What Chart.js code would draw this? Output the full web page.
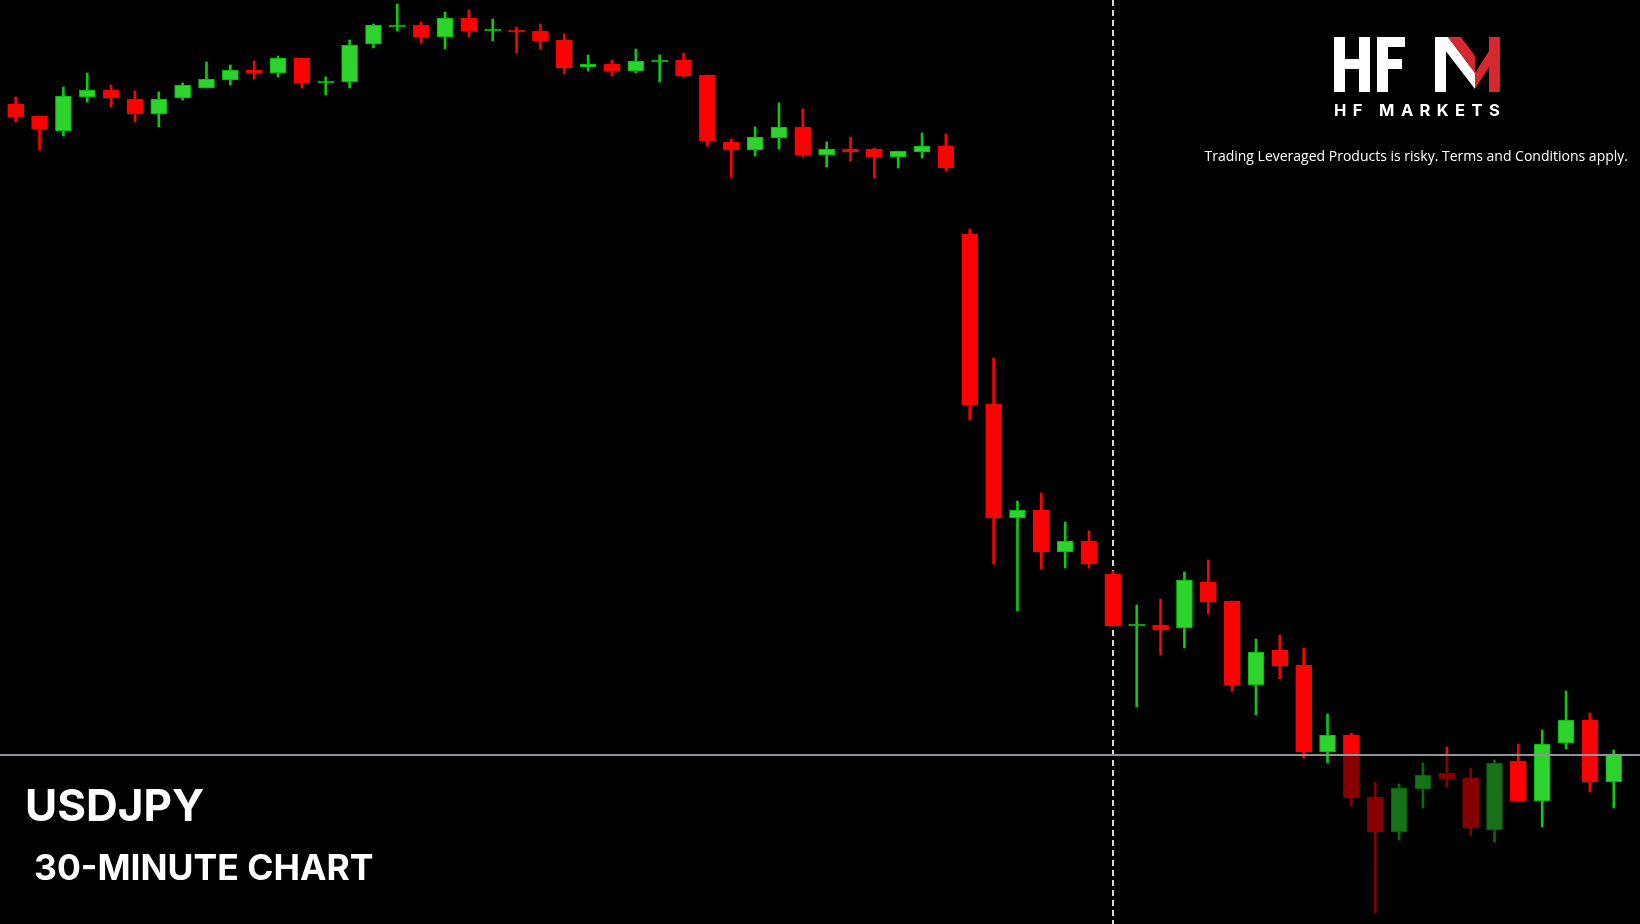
<!DOCTYPE html>
<html><head><meta charset="utf-8">
<script src="https://cdn.jsdelivr.net/npm/chart.js@4.4.1/dist/chart.umd.min.js"></script>
<style>
html,body{margin:0;padding:0;background:#000;width:1640px;height:924px;overflow:hidden}
#wrap{position:absolute;left:0;top:0;width:1640px;height:924px}
.t{position:absolute;color:#fff;font-family:Inter,"Open Sans",sans-serif;white-space:nowrap}
</style></head><body>
<div id="wrap"><canvas id="c" width="1640" height="924"></canvas></div>
<div class="t" style="left:25px;top:778px;font-size:44px;font-weight:700">USDJPY</div>
<div class="t" style="left:34px;top:846px;font-size:35.5px;font-weight:700">30-MINUTE CHART</div>
<svg style="position:absolute;left:1334px;top:37px" width="170" height="56">
<g fill="#fff">
<rect x="0" y="0" width="11" height="55"/><rect x="25" y="0" width="11" height="55"/><rect x="0" y="22" width="36" height="10"/>
<rect x="43" y="0" width="11" height="55"/><rect x="43" y="0" width="28" height="10"/><rect x="43" y="22" width="25" height="10"/>
<rect x="101" y="0" width="11" height="55"/><polygon points="101,0 114,0 141,36 141,52"/>
</g>
<g fill="#d7282f"><polygon points="114,0 127,0 141,19 141,36"/><polygon points="141,52 141,36 155,14 155,0 166,0 166,55 155,55 155,30"/></g>
</svg>
<div class="t" style="left:1334px;top:100px;font-size:16.5px;font-weight:700;letter-spacing:6.4px">HF MARKETS</div>
<div class="t" style="right:12px;top:146px;font-size:14px;font-family:'Open Sans',sans-serif">Trading Leveraged Products is risky. Terms and Conditions apply.</div>
<script>
const idx   = [-1,0,1,2,3,4,5,6,7,8,9,10,11,12,13,14,15,16,17,18,19,20,21,22,23,24,25,26,27,28,29,30,31,32,33,34,35,36,37,38,39,40,41,42,43,44,45,46,47,48,49,50,51,52,53,54,55,56,57,58,59,60,61,62,63,64,65,66,67];
const open  = [153.89,153.96,153.84,153.69,154.03,154.10,154.01,153.86,154.02,154.12,154.20,154.30,154.27,154.42,154.17,154.18,154.56,154.73,154.75,154.63,154.82,154.69,154.70,154.69,154.60,154.33,154.36,154.29,154.38,154.40,154.25,153.58,153.50,153.62,153.73,153.45,153.51,153.51,153.43,153.48,153.54,152.66,150.96,149.82,149.90,149.48,149.59,149.26,148.74,148.75,148.72,149.18,148.99,148.15,148.50,148.35,147.48,147.65,147.03,146.68,147.11,147.27,147.22,146.70,147.39,146.99,147.57,147.80,147.18];
const high  = [153.95,154.03,153.84,154.13,154.27,154.15,154.09,154.08,154.17,154.38,154.35,154.39,154.44,154.42,154.23,154.60,154.76,154.96,154.78,154.88,154.90,154.81,154.73,154.76,154.66,154.45,154.40,154.51,154.45,154.47,154.25,153.61,153.73,153.97,153.91,153.58,153.63,153.52,153.49,153.67,153.66,152.71,151.42,149.99,150.07,149.78,149.69,149.29,148.95,149.01,149.28,149.40,148.99,148.61,148.65,148.52,147.86,147.67,147.18,147.16,147.37,147.53,147.32,147.40,147.56,147.70,148.09,147.87,147.50];
const low   = [153.85,153.78,153.50,153.64,153.98,153.93,153.78,153.73,154.00,154.12,154.15,154.21,154.23,154.12,154.05,154.12,154.52,154.69,154.57,154.51,154.63,154.59,154.47,154.51,154.26,154.29,154.24,154.27,154.18,154.23,153.54,153.23,153.44,153.51,153.43,153.33,153.39,153.22,153.32,153.42,153.29,150.80,149.36,148.89,149.31,149.32,149.32,148.74,147.93,148.45,148.52,148.86,148.09,147.85,148.21,147.42,147.37,146.94,145.87,146.60,146.92,147.13,146.64,146.58,146.99,146.73,147.51,147.08,146.92];
const close = [153.91,153.83,153.71,154.04,154.10,154.02,153.86,154.01,154.15,154.21,154.30,154.27,154.42,154.17,154.19,154.55,154.75,154.75,154.63,154.82,154.69,154.70,154.68,154.59,154.32,154.36,154.29,154.39,154.40,154.24,153.59,153.50,153.63,153.73,153.45,153.51,153.48,153.43,153.49,153.54,153.32,150.95,149.82,149.90,149.48,149.59,149.36,148.74,148.76,148.70,149.20,148.98,148.15,148.48,148.34,147.48,147.65,147.02,146.68,147.12,147.25,147.21,146.72,147.37,146.99,147.56,147.80,147.18,147.45];
const hLevel = 147.45;      // horizontal price line
const vIndex = 46;          // vertical dashed separator
const dimFrom = 55.6, dimTo = 62.6;
const yMin = 145.76, yMax = 155.0, xMin = -0.658, xMax = 68.1;

const up = (i)=> close[i] >= open[i];
const bodies = idx.map((x,i)=>({x, y:[Math.min(open[i],close[i]), Math.max(open[i],close[i])]}));
const wicks  = idx.map((x,i)=>({x, y:[low[i], high[i]]}));
const G='#2ed32e', GB='#00b800', R='#ff0000';

const overlay = {
  id:'ov',
  beforeDatasetsDraw(ch){
    const {ctx, scales:{x}} = ch;
    const xv = Math.round(x.getPixelForValue(vIndex));
    ctx.save();
    ctx.strokeStyle='#d8d8d8'; ctx.lineWidth=2; ctx.setLineDash([6,4]);
    ctx.beginPath(); ctx.moveTo(xv,0); ctx.lineTo(xv,ch.height); ctx.stroke();
    ctx.restore();
  },
  afterDatasetsDraw(ch){
    const {ctx, scales:{x,y}} = ch;
    const yl = y.getPixelForValue(hLevel);
    ctx.save();
    ctx.fillStyle='rgba(0,0,0,0.47)';
    const x0=x.getPixelForValue(dimFrom), x1=x.getPixelForValue(dimTo);
    ctx.fillRect(x0, yl, x1-x0, ch.height-yl);
    ctx.strokeStyle='#8d949c'; ctx.lineWidth=2;
    ctx.beginPath(); ctx.moveTo(0,yl); ctx.lineTo(ch.width,yl); ctx.stroke();
    ctx.restore();
  }
};

new Chart(document.getElementById('c'), {
  type:'bar',
  data:{datasets:[
    {data:wicks, barThickness:2, grouped:false, backgroundColor: idx.map((_,i)=>up(i)?'#10c810':R), borderWidth:0, order:2},
    {data:bodies, barThickness:16, grouped:false, minBarLength:2,
     backgroundColor: idx.map((_,i)=>up(i)?G:R), borderColor: idx.map((_,i)=>up(i)?GB:R),
     borderWidth:1, borderSkipped:false, order:1}
  ]},
  options:{
    responsive:false, animation:false, maintainAspectRatio:false,
    layout:{padding:0},
    plugins:{legend:{display:false}, tooltip:{enabled:false}},
    scales:{
      x:{type:'linear', min:xMin, max:xMax, display:false, offset:false},
      y:{min:yMin, max:yMax, display:false}
    }
  },
  plugins:[overlay]
});
</script>
</body></html>
